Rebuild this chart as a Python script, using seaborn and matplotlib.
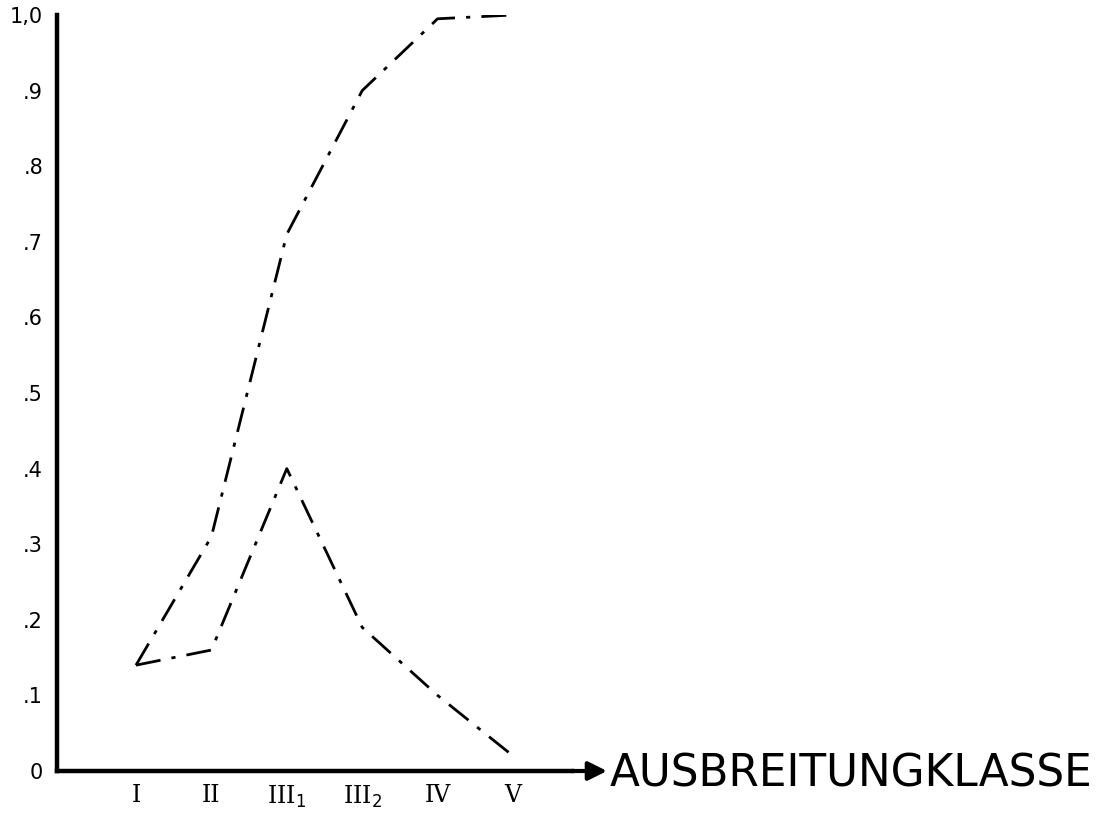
import matplotlib
matplotlib.use("Agg")
import matplotlib.pyplot as plt
import seaborn as sns
import pandas as pd

# ---- data ----
classes = ["I", "II", "III1", "III2", "IV", "V"]
class_labels = ["I", "II", r"III$_1$", r"III$_2$", "IV", "V"]
cumulative = [0.14, 0.31, 0.71, 0.90, 0.995, 1.0]
frequency = [0.14, 0.16, 0.40, 0.19, 0.10, 0.02]
y_ticks = [0.0, 0.1, 0.2, 0.3, 0.4, 0.5, 0.6, 0.7, 0.8, 0.9, 1.0]
y_tick_labels = ["0", ".1", ".2", ".3", ".4", ".5", ".6", ".7", ".8", ".9", "1,0"]
x_axis_title = "AUSBREITUNGKLASSE"

sns.set_style("white")
plt.rcParams["font.family"] = ["DejaVu Sans"]

W, H = 1107, 821
fig = plt.figure(figsize=(W / 100, H / 100), dpi=100)
fig.patch.set_facecolor("white")

# axes placement in pixels
x0, x1 = 57, 572
y_bot, y_top = 771, 15
ax = fig.add_axes([x0 / W, (H - y_bot) / H, (x1 - x0) / W, (y_bot - y_top) / H])
ax.set_facecolor("white")

df = pd.DataFrame({
    "pos": list(range(len(classes))) * 2,
    "value": cumulative + frequency,
    "series": ["cumulative"] * len(classes) + ["frequency"] * len(classes),
})

dash = (0, (9, 4, 1.5, 4))
for name in ["cumulative", "frequency"]:
    sub = df[df["series"] == name]
    sns.lineplot(data=sub, x="pos", y="value", ax=ax, color="black",
                 linewidth=2.0, sort=False, estimator=None)
for line in ax.get_lines():
    line.set_linestyle(dash)

# x scale: category I at px 136, spacing ~75.4 px
step = 75.4
ax.set_xlim((x0 - 136) / step, (x1 - 136) / step)
ax.set_ylim(0, 1.0)

ax.set_xticks(range(len(classes)))
ax.set_xticklabels(class_labels, family="DejaVu Serif", fontsize=17)
ax.set_yticks(y_ticks)
ax.set_yticklabels(y_tick_labels, fontsize=15)
ax.tick_params(axis="y", direction="out", length=6, width=1.5, pad=4, colors="black")
ax.tick_params(axis="x", direction="out", length=7, width=1.5, pad=2, colors="black")
ax.set_xlabel("")
ax.set_ylabel("")

for s in ["top", "right"]:
    ax.spines[s].set_visible(False)
for s in ["left", "bottom"]:
    ax.spines[s].set_linewidth(3.2)
    ax.spines[s].set_color("black")

# arrow at end of x axis
ay = (H - y_bot) / H
ax.annotate("", xy=(607 / W, ay), xycoords="figure fraction",
            xytext=(x1 / W, ay), textcoords="figure fraction",
            arrowprops=dict(arrowstyle="-|>", lw=3, color="black",
                            mutation_scale=28, shrinkA=0, shrinkB=0),
            annotation_clip=False)

fig.text(610 / W, (H - 786) / H, x_axis_title, ha="left", va="baseline",
         fontsize=31.5, color="black")

fig.savefig("out.png", dpi=100, facecolor="white")
